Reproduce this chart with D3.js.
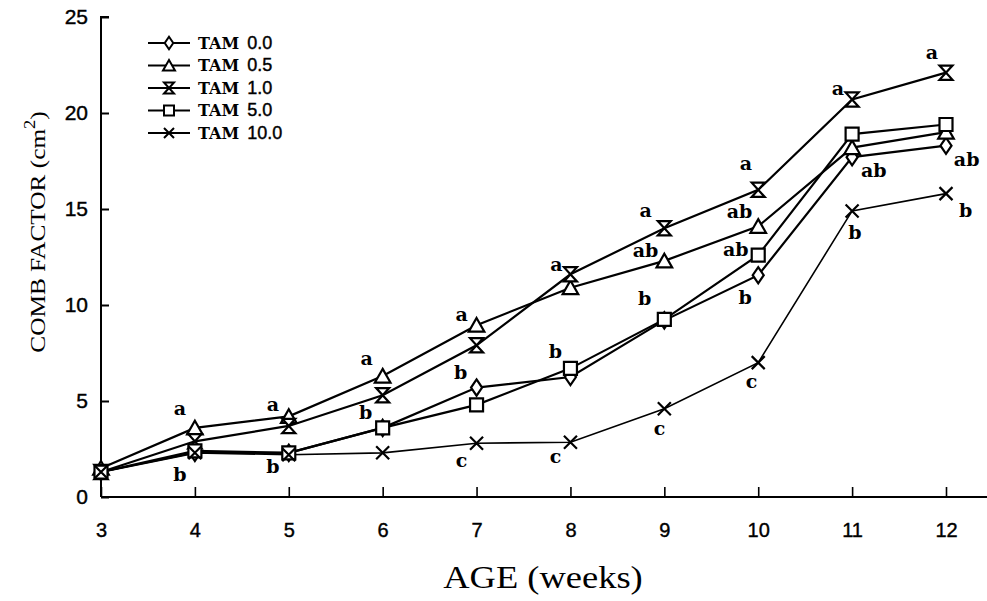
<!DOCTYPE html>
<html>
<head>
<meta charset="utf-8">
<script src="https://cdn.jsdelivr.net/npm/d3@7"></script>
<style>
  body { margin: 0; background: #fff; }
  svg text { fill: #000; }
</style>
</head>
<body>
<div id="chart"></div>
<script>
// Tuần tuổi (trục X)
const weeks = [3, 4, 5, 6, 7, 8, 9, 10, 11, 12];

// Giá trị comb factor cho từng nhóm TAM
const tam00 = [1.3, 2.3, 2.3, 3.6, 5.7, 6.25, 9.2, 11.55, 17.7, 18.3];
const tam05 = [1.5, 3.6, 4.2, 6.3, 8.95, 10.9, 12.3, 14.1, 18.2, 19.0];
const tam10 = [1.3, 2.9, 3.7, 5.3, 7.9, 11.6, 14.0, 16.0, 20.7, 22.1];
const tam50 = [1.3, 2.4, 2.3, 3.6, 4.8, 6.7, 9.25, 12.6, 18.9, 19.4];
const tam100 = [1.3, 2.3, 2.2, 2.3, 2.8, 2.85, 4.6, 7.0, 14.9, 15.8];

const seriesNames = ["TAM 0.0", "TAM 0.5", "TAM 1.0", "TAM 5.0", "TAM 10.0"];
const seriesValues = [tam00, tam05, tam10, tam50, tam100];
const seriesSymbols = ["diamond", "triangle", "hourglass", "square", "cross"];

// Tick labels
const xTicks = [3, 4, 5, 6, 7, 8, 9, 10, 11, 12];
const yTicks = [0, 5, 10, 15, 20, 25];

// Chữ cái ý nghĩa thống kê: [tuần, giá trị, nhãn]
const letters = [
  [3.84, 4.6, "a"], [3.84, 1.2, "b"],
  [4.83, 4.8, "a"], [4.83, 1.6, "b"],
  [5.83, 7.2, "a"], [5.82, 4.4, "b"],
  [6.84, 9.5, "a"], [6.83, 6.5, "b"], [6.84, 1.9, "c"],
  [7.85, 12.1, "a"], [7.84, 7.6, "b"], [7.84, 2.1, "c"],
  [8.80, 14.95, "a"], [8.80, 12.85, "ab"], [8.79, 10.35, "b"], [8.95, 3.6, "c"],
  [9.87, 17.4, "a"], [9.80, 14.9, "ab"], [9.76, 12.9, "ab"], [9.86, 10.4, "b"], [9.93, 6.0, "c"],
  [10.85, 21.3, "a"], [11.23, 17.0, "ab"], [11.03, 13.8, "b"],
  [11.85, 23.15, "a"], [12.22, 17.6, "ab"], [12.21, 14.95, "b"]
];

const W = 987, H = 601;

const svg = d3.select("#chart").append("svg")
  .attr("width", W)
  .attr("height", H);

const x = d3.scaleLinear().domain([3, 12]).range([101, 946]);
const y = d3.scaleLinear().domain([0, 25]).range([497, 17]);

// Trục Y
const yAxis = svg.append("g")
  .attr("transform", `translate(${x(3)},0)`)
  .call(d3.axisRight(y).tickValues(yTicks).tickSize(8).tickFormat(d3.format("d")));
yAxis.select(".domain").attr("d", `M8,${y(25)}H0V${y(0)}`).attr("stroke-width", 2);
yAxis.selectAll(".tick line").attr("stroke-width", 2);
yAxis.selectAll(".tick text")
  .attr("x", -13)
  .attr("text-anchor", "end")
  .style("font-family", "Liberation Sans, Arial, sans-serif")
  .style("font-size", "21px")
  .style("stroke", "#000")
  .style("stroke-width", 0.4);

// Trục X
const xAxis = svg.append("g")
  .attr("transform", `translate(0,${y(0)})`)
  .call(d3.axisTop(x).tickValues(xTicks).tickSize(10).tickFormat(d3.format("d")));
xAxis.select(".domain").attr("d", `M${x(3)},0H${W}`).attr("stroke-width", 2);
xAxis.selectAll(".tick line").attr("stroke-width", 1.6);
xAxis.selectAll(".tick text")
  .attr("y", 40)
  .style("font-family", "Liberation Sans, Arial, sans-serif")
  .style("font-size", "20px")
  .style("stroke", "#000")
  .style("stroke-width", 0.4);

// Hình dạng marker
function markerPath(kind, s) {
  const h = s / 2;
  if (kind === "diamond") return `M0,${-h * 1.25}L${h * 0.85},0L0,${h * 1.25}L${-h * 0.85},0Z`;
  if (kind === "triangle") return `M0,${-h * 1.1}L${h * 1.2},${h}L${-h * 1.2},${h}Z`;
  if (kind === "hourglass") return `M${-h},${-h * 1.1}H${h}L${-h},${h * 1.1}H${h}Z`;
  if (kind === "square") return `M${-h},${-h}H${h}V${h}H${-h}Z`;
  return `M${-h},${-h}L${h},${h}M${-h},${h}L${h},${-h}`;
}

const line = d3.line()
  .x((d, i) => x(weeks[i]))
  .y(d => y(d));

// Vẽ đường
seriesValues.forEach((vals, k) => {
  svg.append("path")
    .datum(vals)
    .attr("d", line)
    .attr("fill", "none")
    .attr("stroke", "#000")
    .attr("stroke-width", k === 4 ? 1.6 : 2.2);
});

// Vẽ marker
seriesValues.forEach((vals, k) => {
  const kind = seriesSymbols[k];
  svg.selectAll(".m" + k)
    .data(vals)
    .enter()
    .append("path")
    .attr("class", "m" + k)
    .attr("transform", (d, i) => `translate(${x(weeks[i])},${y(d)})`)
    .attr("d", markerPath(kind, 13))
    .attr("fill", kind === "cross" ? "none" : "#fff")
    .attr("stroke", "#000")
    .attr("stroke-width", 2.2);
});

// Chữ cái
svg.selectAll(".letter")
  .data(letters)
  .enter()
  .append("text")
  .attr("class", "letter")
  .attr("x", d => x(d[0]))
  .attr("y", d => y(d[1]))
  .attr("dy", "0.35em")
  .attr("text-anchor", "middle")
  .style("font-family", "DejaVu Serif, serif")
  .style("font-weight", "bold")
  .style("font-size", "19px")
  .text(d => d[2]);

// Chú thích
const legend = svg.append("g").attr("transform", "translate(148,43)");
seriesNames.forEach((name, k) => {
  const g = legend.append("g").attr("transform", `translate(0,${k * 22.5})`);
  g.append("line").attr("x1", 0).attr("x2", 42).attr("stroke", "#000").attr("stroke-width", 2);
  g.append("path")
    .attr("transform", "translate(21,0)")
    .attr("d", markerPath(seriesSymbols[k], 10))
    .attr("fill", seriesSymbols[k] === "cross" ? "none" : "#fff")
    .attr("stroke", "#000")
    .attr("stroke-width", 2);
  const t = g.append("text")
    .attr("x", 50)
    .attr("dy", "0.35em")
    .style("font-size", "16px");
  t.append("tspan")
    .style("font-family", "DejaVu Serif, serif")
    .style("font-weight", "bold")
    .text(name.split(" ")[0]);
  t.append("tspan")
    .attr("dx", 8)
    .style("font-family", "Liberation Sans, Arial, sans-serif")
    .style("font-size", "18px")
    .style("stroke", "#000")
    .style("stroke-width", 0.4)
    .text(name.split(" ")[1]);
});

// Tên trục X
svg.append("text")
  .attr("transform", "translate(543,588) scale(1.14,1)")
  .attr("text-anchor", "middle")
  .style("font-family", "Liberation Serif, Times New Roman, serif")
  .style("font-size", "32px")
  .text("AGE (weeks)");

// Tên trục Y
const yt = svg.append("text")
  .attr("transform", "translate(45,232) rotate(-90) scale(1.15,1)")
  .attr("text-anchor", "middle")
  .style("font-family", "Liberation Serif, Times New Roman, serif")
  .style("font-size", "22px");
yt.append("tspan").text("COMB FACTOR (cm");
yt.append("tspan").attr("dy", -10).style("font-size", "16px").text("2");
yt.append("tspan").attr("dy", 10).text(")");
</script>
</body>
</html>
